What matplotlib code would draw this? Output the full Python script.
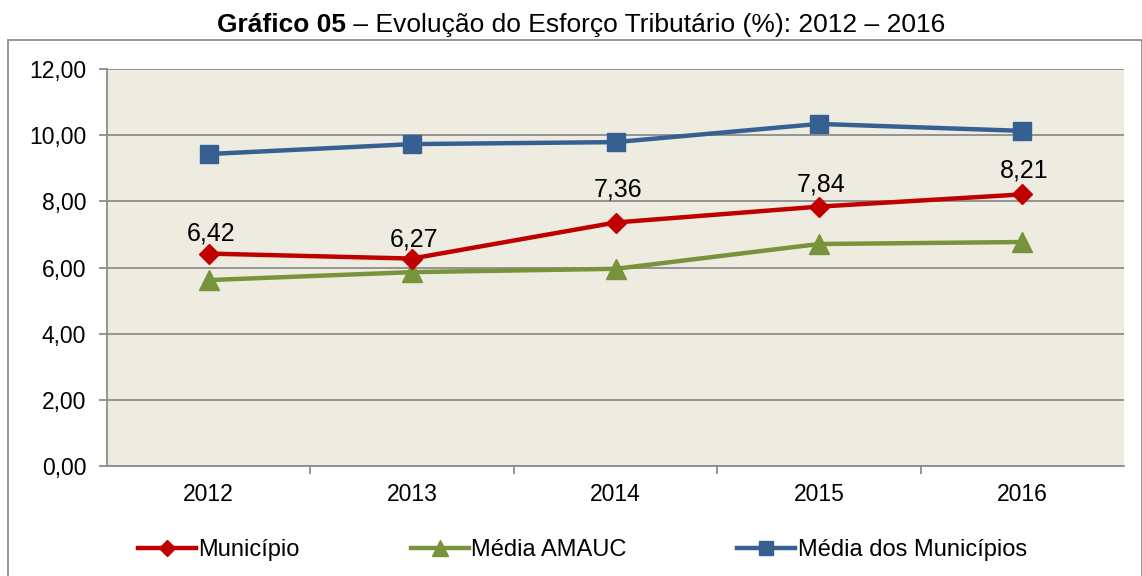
import matplotlib
matplotlib.use("Agg")
import matplotlib.pyplot as plt
from matplotlib.patches import Rectangle

plt.rcParams['font.family'] = ['Liberation Sans', 'DejaVu Sans']

years = ["2012", "2013", "2014", "2015", "2016"]
municipio = [6.42, 6.27, 7.36, 7.84, 8.21]
media_amauc = [5.62, 5.86, 5.96, 6.71, 6.77]
media_municipios = [9.43, 9.73, 9.79, 10.34, 10.13]
yticks = [0, 2, 4, 6, 8, 10, 12]
ytick_labels = ["0,00", "2,00", "4,00", "6,00", "8,00", "10,00", "12,00"]
mun_labels = ["6,42", "6,27", "7,36", "7,84", "8,21"]
# label offsets (points, baseline above marker centre) as placed in the original
label_offsets = [9.4, 8.6, 18.7, 10.8, 12.2]

W, H = 1142, 576
fig = plt.figure(figsize=(W/100, H/100), dpi=100)
ax = fig.add_axes([107/W, 1-466/H, (1124-107)/W, (466-69)/H])
ax.set_facecolor("#EEEBE1")

x = list(range(len(years)))
ax.plot(x, media_municipios, color="#376092", lw=3.2, marker="s", ms=13, label="Média dos Municípios", zorder=3)
ax.plot(x, media_amauc, color="#77933C", lw=3.2, marker="^", ms=14, label="Média AMAUC", zorder=3)
ax.plot(x, municipio, color="#C00000", lw=3.2, marker="D", ms=10, label="Município", zorder=4)

for xi, v, lab, off in zip(x, municipio, mun_labels, label_offsets):
    ax.annotate(lab, (xi, v), xytext=(1.5, off), textcoords="offset points",
                ha="center", va="baseline", fontsize=18)

ax.set_xlim(-0.5, 4.5)
ax.set_ylim(0, 12)
ax.set_yticks(yticks)
ax.set_yticklabels(ytick_labels, fontsize=16.5)
ax.yaxis.grid(True, color="#8C8C8C", lw=1.3)
ax.set_axisbelow(True)
ax.set_xticks(x)
ax.set_xticklabels(years, fontsize=16.5)
ax.tick_params(axis="x", which="major", length=0, pad=12)
ax.set_xticks([0.5, 1.5, 2.5, 3.5], minor=True)
ax.tick_params(axis="x", which="minor", length=6, color="#8C8C8C", width=1.3)
ax.tick_params(axis="y", length=6, color="#8C8C8C", width=1.3, pad=9)
for s in ["top", "right"]:
    ax.spines[s].set_visible(False)
for s in ["left", "bottom"]:
    ax.spines[s].set_color("#8C8C8C")
    ax.spines[s].set_linewidth(1.3)

handles, labels = ax.get_legend_handles_labels()
order = [2, 1, 0]
leg = fig.legend([handles[i] for i in order], [labels[i] for i in order],
                 loc="center", bbox_to_anchor=(0.51, 1-550/H), ncol=3, frameon=False,
                 fontsize=17, handlelength=2.45, handletextpad=0.1, columnspacing=4.7,
                 markerscale=0.8)

# outer frame
fig.patches.append(Rectangle((8/W, -0.01), (W-8)/W, 1-40/H+0.01, transform=fig.transFigure,
                             fill=False, edgecolor="#8C8C8C", lw=1.3))

# title
fig.canvas.draw()
r = fig.canvas.get_renderer()
t1 = fig.text(0, 1-25/H, "Gráfico 05", fontsize=19, fontweight="bold", va="center", ha="left")
t2 = fig.text(0, 1-25/H, " – Evolução do Esforço Tributário (%): 2012 – 2016", fontsize=19, va="center", ha="left")
w1 = t1.get_window_extent(r).width
w2 = t2.get_window_extent(r).width
start = 581 - (w1 + w2) / 2
t1.set_x(start / W)
t2.set_x((start + w1) / W)

fig.savefig("out.png", dpi=100)
